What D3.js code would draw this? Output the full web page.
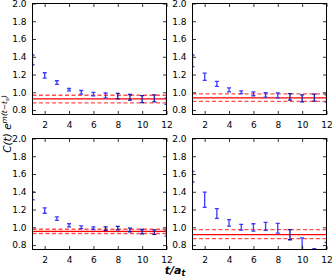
<!DOCTYPE html>
<html>
<head>
<meta charset="utf-8">
<script src="https://cdn.jsdelivr.net/npm/d3@7"></script>
<style>
  body { margin: 0; background: #fff; }
  svg { display: block; }
  text { font-family: 'DejaVu Sans', sans-serif; }
</style>
</head>
<body>
<svg width="332" height="277"></svg>
<script>
const tValues = [1, 2, 3, 4, 5, 6, 7, 8, 9, 10, 11, 12];
const xTicks = [2, 4, 6, 8, 10, 12];
const yTicks = [0.8, 1.0, 1.2, 1.4, 1.6, 1.8, 2.0];

// ratio values and errors for each panel (top-left, top-right, bottom-left, bottom-right)
const ratioTL = [1.365, 1.19, 1.11, 1.03, 1.0, 0.98, 0.965, 0.957, 0.943, 0.923, 0.932, 0.9];
const errTL = [0.055, 0.03, 0.02, 0.013, 0.02, 0.02, 0.027, 0.03, 0.032, 0.04, 0.04, 0.037];
const ratioTR = [1.355, 1.175, 1.095, 1.027, 1.0, 0.983, 0.97, 0.965, 0.948, 0.932, 0.94, 0.93];
const errTR = [0.065, 0.04, 0.028, 0.022, 0.016, 0.022, 0.025, 0.027, 0.037, 0.04, 0.04, 0.04];
const ratioBL = [1.355, 1.188, 1.097, 1.022, 1.0, 0.99, 0.985, 0.99, 0.97, 0.95, 0.945, 0.93];
const errBL = [0.045, 0.03, 0.02, 0.018, 0.015, 0.015, 0.02, 0.02, 0.02, 0.025, 0.025, 0.03];
const ratioBR = [1.57, 1.31, 1.155, 1.05, 1.0, 0.998, 1.01, 0.99, 0.917, 0.79, 0.69, 0.79];
const errBR = [0.06, 0.085, 0.055, 0.036, 0.032, 0.042, 0.045, 0.055, 0.057, 0.09, 0.07, 0.04];

// fitted plateau: central value, lower and upper band
const fitTL = [0.927, 0.882, 0.967];
const fitTR = [0.938, 0.897, 0.983];
const fitBL = [0.955, 0.93, 0.978];
const fitBR = [0.917, 0.872, 0.974];

// t range used by each fit
const rangeTL = [8, 11];
const rangeTR = [9, 11];
const rangeBL = [7, 11];
const rangeBR = [9, 9];

const panels = [
  { ratio: ratioTL, err: errTL, fit: fitTL, range: rangeTL, x0: 32.5, y0: 3.5 },
  { ratio: ratioTR, err: errTR, fit: fitTR, range: rangeTR, x0: 192.5, y0: 3.5 },
  { ratio: ratioBL, err: errBL, fit: fitBL, range: rangeBL, x0: 32.5, y0: 138.5 },
  { ratio: ratioBR, err: errBR, fit: fitBR, range: rangeBR, x0: 192.5, y0: 138.5 },
];

const w = 134;
const h = 111;
const svg = d3.select('svg');

panels.forEach((p, i) => {
  const x = d3.scaleLinear().domain([1, 12]).range([0, w]);
  const y = d3.scaleLinear().domain([0.75, 2.0]).range([h, 0]);
  const g = svg.append('g').attr('transform', `translate(${p.x0},${p.y0})`);

  g.append('clipPath').attr('id', `clip${i}`)
    .append('rect').attr('width', w).attr('height', h);

  const plot = g.append('g').attr('clip-path', `url(#clip${i})`);

  // plateau lines
  const [mid, lo, hi] = p.fit;
  [lo, hi].forEach((v) => {
    plot.append('line')
      .attr('x1', 0).attr('x2', w)
      .attr('y1', y(v)).attr('y2', y(v))
      .attr('stroke', '#ff3030')
      .attr('stroke-opacity', 0.85)
      .attr('stroke-width', 1.3)
      .attr('stroke-dasharray', '4 2.5');
  });
  plot.append('line')
    .attr('x1', 0).attr('x2', w)
    .attr('y1', y(mid)).attr('y2', y(mid))
    .attr('stroke', '#ff0000')
    .attr('stroke-width', 1.3);

  // error bars
  const pts = tValues.map((t, k) => ({ t, v: p.ratio[k], e: p.err[k] }));
  const bars = plot.selectAll('g.bar').data(pts).enter()
    .append('g').classed('bar', true)
    .attr('stroke', (d) => (d.t >= p.range[0] && d.t <= p.range[1] ? '#1a1aa8' : '#3a3aff'))
    .attr('stroke-width', 1.3);
  bars.append('line')
    .attr('x1', (d) => x(d.t)).attr('x2', (d) => x(d.t))
    .attr('y1', (d) => y(d.v - d.e)).attr('y2', (d) => y(d.v + d.e));
  [-1, 1].forEach((s) => {
    bars.append('line')
      .attr('x1', (d) => x(d.t) - 2).attr('x2', (d) => x(d.t) + 2)
      .attr('y1', (d) => y(d.v + s * d.e)).attr('y2', (d) => y(d.v + s * d.e));
  });

  // axes with inward ticks on all sides
  const axB = g.append('g').attr('transform', `translate(0,${h})`)
    .call(d3.axisBottom(x).tickValues(xTicks).tickSizeInner(-3.5).tickSizeOuter(0).tickPadding(7));
  const axT = g.append('g')
    .call(d3.axisTop(x).tickValues(xTicks).tickSizeInner(-3.5).tickSizeOuter(0).tickFormat(''));
  const axL = g.append('g')
    .call(d3.axisLeft(y).tickValues(yTicks).tickSizeInner(-3.5).tickSizeOuter(0).tickPadding(6)
      .tickFormat(d3.format('.1f')));
  const axR = g.append('g').attr('transform', `translate(${w},0)`)
    .call(d3.axisRight(y).tickValues(yTicks).tickSizeInner(-3.5).tickSizeOuter(0).tickFormat(''));

  [axB, axT, axL, axR].forEach((a) => {
    a.select('.domain').remove();
    a.selectAll('line').attr('stroke', '#000').attr('stroke-width', 0.8);
    a.selectAll('text').attr('font-size', 9).attr('fill', '#000')
      .attr('font-family', "'DejaVu Sans', sans-serif");
  });

  g.append('rect')
    .attr('width', w).attr('height', h)
    .attr('fill', 'none').attr('stroke', '#000').attr('stroke-width', 1);
});

// axis titles
const xLabel = svg.append('text')
  .attr('x', 175).attr('y', 274)
  .attr('text-anchor', 'middle')
  .attr('font-family', "'DejaVu Serif', serif")
  .attr('font-style', 'italic')
  .attr('font-weight', 'bold')
  .attr('font-size', 11);
xLabel.append('tspan').text('t/a');
xLabel.append('tspan').attr('dy', 2).attr('font-size', 8).text('t');

const yLabel = svg.append('text')
  .attr('transform', 'translate(11,124) rotate(-90)')
  .attr('text-anchor', 'middle')
  .attr('font-family', "'DejaVu Sans', sans-serif")
  .attr('font-style', 'italic')
  .attr('font-size', 10.5);
yLabel.append('tspan').text('C(t) e');
yLabel.append('tspan').attr('dy', -4).attr('font-size', 7.5).text('m(t\u2212t');
yLabel.append('tspan').attr('dy', 1.5).attr('font-size', 5.5).text('s');
yLabel.append('tspan').attr('dy', -1.5).attr('font-size', 7.5).text(')');
</script>
</body>
</html>
